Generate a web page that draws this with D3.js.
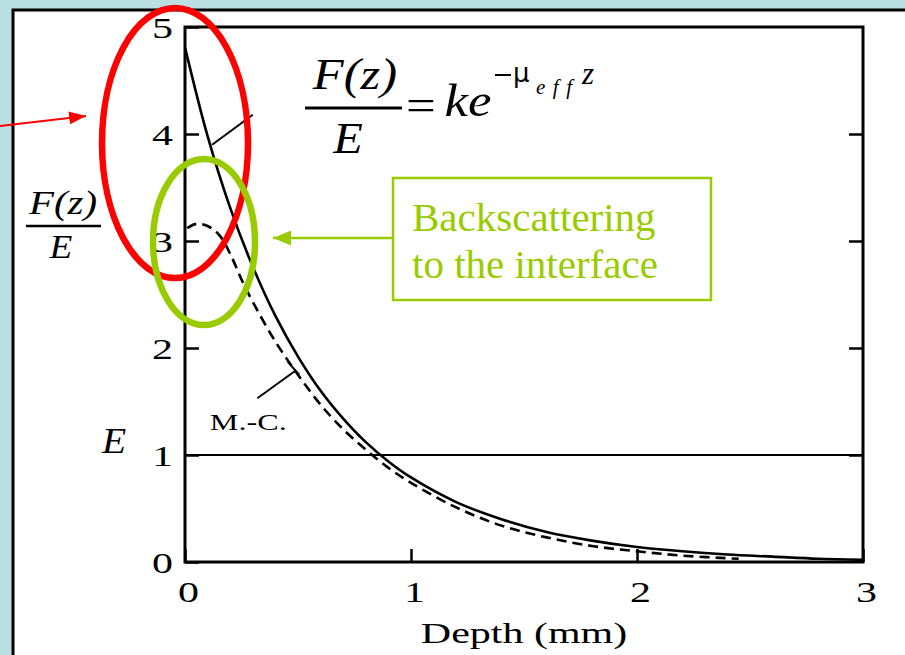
<!DOCTYPE html>
<html>
<head>
<meta charset="utf-8">
<title>F(z)/E vs depth</title>
<script src="https://d3js.org/d3.v7.min.js"></script>
<style>
    html, body {
        margin: 0;
        padding: 0;
        background-color: #bae0e3;
    }
    svg { display: block; }
    .tick text {
        font-family: 'Liberation Serif', 'Times New Roman', serif;
        font-size: 30px;
        fill: black;
    }
    .math text {
        font-family: 'Liberation Serif', 'Times New Roman', serif;
        font-style: italic;
        fill: black;
    }
</style>
</head>
<body>
<div id="chart"></div>
<script>

//DATA
const depthSolid = [0, 0.1, 0.2, 0.3, 0.4, 0.5, 0.6, 0.7, 0.8, 0.9, 1.0, 1.2, 1.4, 1.6, 1.8, 2.0, 2.2, 2.4, 2.6, 2.8, 3.0]
const valSolid   = [4.81, 3.98, 3.31, 2.76, 2.30, 1.92, 1.60, 1.34, 1.12, 0.94, 0.79, 0.56, 0.40, 0.28, 0.20, 0.14, 0.10, 0.07, 0.05, 0.03, 0.02]

const depthMC = [0.01, 0.05, 0.1, 0.15, 0.2, 0.25, 0.3, 0.4, 0.5, 0.6, 0.7, 0.8, 0.9, 1.0, 1.2, 1.4, 1.6, 1.8, 2.0, 2.2, 2.45]
const valMC   = [3.12, 3.16, 3.14, 3.06, 2.88, 2.64, 2.43, 2.06, 1.75, 1.47, 1.24, 1.05, 0.88, 0.74, 0.51, 0.34, 0.23, 0.15, 0.10, 0.06, 0.03]

const incidentLevel = 1   // the flat line, E
const xTicks = [0, 1, 2, 3]
const yTicks = [0, 1, 2, 3, 4, 5]

//LAYOUT
const W = 905, H = 655
const svg = d3.select('#chart').append('svg')
    .attr('width', W)
    .attr('height', H)

// white slide panel
svg.append('rect')
    .attr('x', 13).attr('y', 10)
    .attr('width', W).attr('height', H)
    .attr('fill', 'white')
    .attr('stroke', 'black')
    .attr('stroke-width', 3)

const x = d3.scaleLinear().domain([0, 3]).range([185, 863])
const y = d3.scaleLinear().domain([0, 5]).range([562, 27])

const g = svg.append('g')

// frame
g.append('rect')
    .attr('x', x(0)).attr('y', y(5))
    .attr('width', x(3) - x(0)).attr('height', y(0) - y(5))
    .attr('fill', 'none')
    .attr('stroke', 'black')
    .attr('stroke-width', 3)

// axes with inward ticks
const xAxis = g.append('g')
    .attr('transform', 'translate(0,' + y(0) + ')')
    .call(d3.axisBottom(x).tickValues(xTicks).tickSize(-13).tickFormat(d3.format('d')))
const yAxis = g.append('g')
    .attr('transform', 'translate(' + x(0) + ',0)')
    .call(d3.axisLeft(y).tickValues(yTicks).tickSize(-14).tickFormat(d3.format('d')))
g.append('g')
    .attr('transform', 'translate(' + x(3) + ',0)')
    .call(d3.axisRight(y).tickValues(yTicks.slice(1, 5)).tickSize(-14).tickFormat(''))

g.selectAll('.domain').remove()
g.selectAll('.tick line').attr('stroke', 'black').attr('stroke-width', 2.5)

// scanned labels look stretched sideways
xAxis.selectAll('.tick text')
    .attr('x', 0).attr('y', 0).attr('dy', null)
    .attr('text-anchor', 'middle')
    .attr('transform', 'translate(3,40) scale(1.4,1)')
yAxis.selectAll('.tick text')
    .attr('x', 0).attr('y', 0).attr('dy', null)
    .attr('text-anchor', 'end')
    .attr('transform', 'translate(-12,10) scale(1.4,1)')

svg.append('text')
    .attr('transform', 'translate(' + x(1.5) + ',643) scale(1.4,1)')
    .attr('text-anchor', 'middle')
    .style('font-family', "'Liberation Serif', serif")
    .style('font-size', '30px')
    .text('Depth (mm)')

// E level line
g.append('line')
    .attr('x1', x(0)).attr('x2', x(3))
    .attr('y1', y(incidentLevel)).attr('y2', y(incidentLevel))
    .attr('stroke', 'black')
    .attr('stroke-width', 2.2)

// curves
const line = d3.line()
    .x(d => x(d[0]))
    .y(d => y(d[1]))
    .curve(d3.curveCatmullRom)

g.append('path')
    .datum(d3.zip(depthSolid, valSolid))
    .attr('d', line)
    .attr('fill', 'none')
    .attr('stroke', 'black')
    .attr('stroke-width', 2.6)

g.append('path')
    .datum(d3.zip(depthMC, valMC))
    .attr('d', line)
    .attr('fill', 'none')
    .attr('stroke', 'black')
    .attr('stroke-width', 2.6)
    .attr('stroke-dasharray', '10,6')

// pointer lines
g.append('line')
    .attr('x1', x(0.12)).attr('y1', y(3.90))
    .attr('x2', x(0.30)).attr('y2', y(4.18))
    .attr('stroke', 'black').attr('stroke-width', 2)
g.append('line')
    .attr('x1', x(0.32)).attr('y1', y(1.53))
    .attr('x2', x(0.49)).attr('y2', y(1.79))
    .attr('stroke', 'black').attr('stroke-width', 2)
g.append('line')
    .attr('x1', x(0.455)).attr('y1', y(1.87))
    .attr('x2', x(0.505)).attr('y2', y(1.75))
    .attr('stroke', 'black').attr('stroke-width', 2)

g.append('text')
    .attr('transform', 'translate(' + x(0.11) + ',' + y(1.23) + ') scale(1.4,1)')
    .style('font-family', "'Liberation Serif', serif")
    .style('font-size', '23px')
    .text('M.-C.')

// italic math text, a bit wider than Times
function mathText(parent, px, py, size, str, sx) {
    return parent.append('text')
        .attr('transform', 'translate(' + px + ',' + py + ') scale(' + sx + ',1)')
        .attr('text-anchor', 'middle')
        .style('font-size', size + 'px')
        .text(str)
}

// formula at the top
const f = svg.append('g').attr('class', 'math')
mathText(f, 355, 89, 44, 'F(z)', 1.15)
f.append('line')
    .attr('x1', 305).attr('x2', 402)
    .attr('y1', 108).attr('y2', 108)
    .attr('stroke', 'black').attr('stroke-width', 3)
mathText(f, 348, 153, 44, 'E', 1.1)
mathText(f, 421, 120, 44, '=', 1.2).style('font-style', 'normal')
mathText(f, 468, 116, 46, 'ke', 1.15)
// superscript -mu_eff z
f.append('line')
    .attr('x1', 495).attr('x2', 511)
    .attr('y1', 75).attr('y2', 75)
    .attr('stroke', 'black').attr('stroke-width', 2)
f.append('text').attr('x', 513).attr('y', 82)
    .style('font-style', 'normal').style('font-family', "'DejaVu Sans', sans-serif")
    .style('font-size', '26px').text('\u03bc')
f.append('text').attr('x', 536).attr('y', 94)
    .attr('textLength', 36).attr('lengthAdjust', 'spacing')
    .style('font-size', '21px').text('eff')
f.append('text').attr('x', 582).attr('y', 84)
    .style('font-size', '31px').text('z')

// left-hand label F(z)/E
mathText(f, 63, 214, 34, 'F(z)', 1.2)
f.append('line')
    .attr('x1', 26).attr('x2', 101)
    .attr('y1', 226).attr('y2', 226)
    .attr('stroke', 'black').attr('stroke-width', 2.5)
mathText(f, 61, 258, 34, 'E', 1.1)
mathText(f, 114, 453, 36, 'E', 1.1)

// annotations
const red = '#ff0000', green = '#99cc00'
const defs = svg.append('defs')
function arrowHead(id, color, w, l) {
    defs.append('marker')
        .attr('id', id)
        .attr('viewBox', '0 0 ' + l + ' ' + w)
        .attr('refX', l).attr('refY', w / 2)
        .attr('markerWidth', l).attr('markerHeight', w)
        .attr('markerUnits', 'userSpaceOnUse')
        .attr('orient', 'auto')
        .append('path')
        .attr('d', 'M0,0L' + l + ',' + (w / 2) + 'L0,' + w + 'Z')
        .attr('fill', color)
}
arrowHead('redHead', red, 13, 17)
arrowHead('greenHead', green, 15, 18)

svg.append('line')
    .attr('x1', 0).attr('y1', 126)
    .attr('x2', 86).attr('y2', 116)
    .attr('stroke', red).attr('stroke-width', 2)
    .attr('marker-end', 'url(#redHead)')

svg.append('ellipse')
    .attr('cx', 175).attr('cy', 143)
    .attr('rx', 73).attr('ry', 135)
    .attr('fill', 'none')
    .attr('stroke', red).attr('stroke-width', 6.5)

svg.append('ellipse')
    .attr('cx', 204).attr('cy', 242)
    .attr('rx', 51).attr('ry', 83)
    .attr('fill', 'none')
    .attr('stroke', green).attr('stroke-width', 6.5)

svg.append('line')
    .attr('x1', 393).attr('y1', 238)
    .attr('x2', 273).attr('y2', 238)
    .attr('stroke', green).attr('stroke-width', 2.5)
    .attr('marker-end', 'url(#greenHead)')

svg.append('rect')
    .attr('x', 393).attr('y', 178)
    .attr('width', 318).attr('height', 122)
    .attr('fill', 'white')
    .attr('stroke', green).attr('stroke-width', 2.5)

const note = svg.append('text')
    .style('font-family', "'Liberation Serif', serif")
    .style('font-size', '41px')
    .attr('fill', green)
note.append('tspan').attr('x', 412).attr('y', 231).text('Backscattering')
note.append('tspan').attr('x', 412).attr('y', 278).text('to the interface')

</script>
</body>
</html>
